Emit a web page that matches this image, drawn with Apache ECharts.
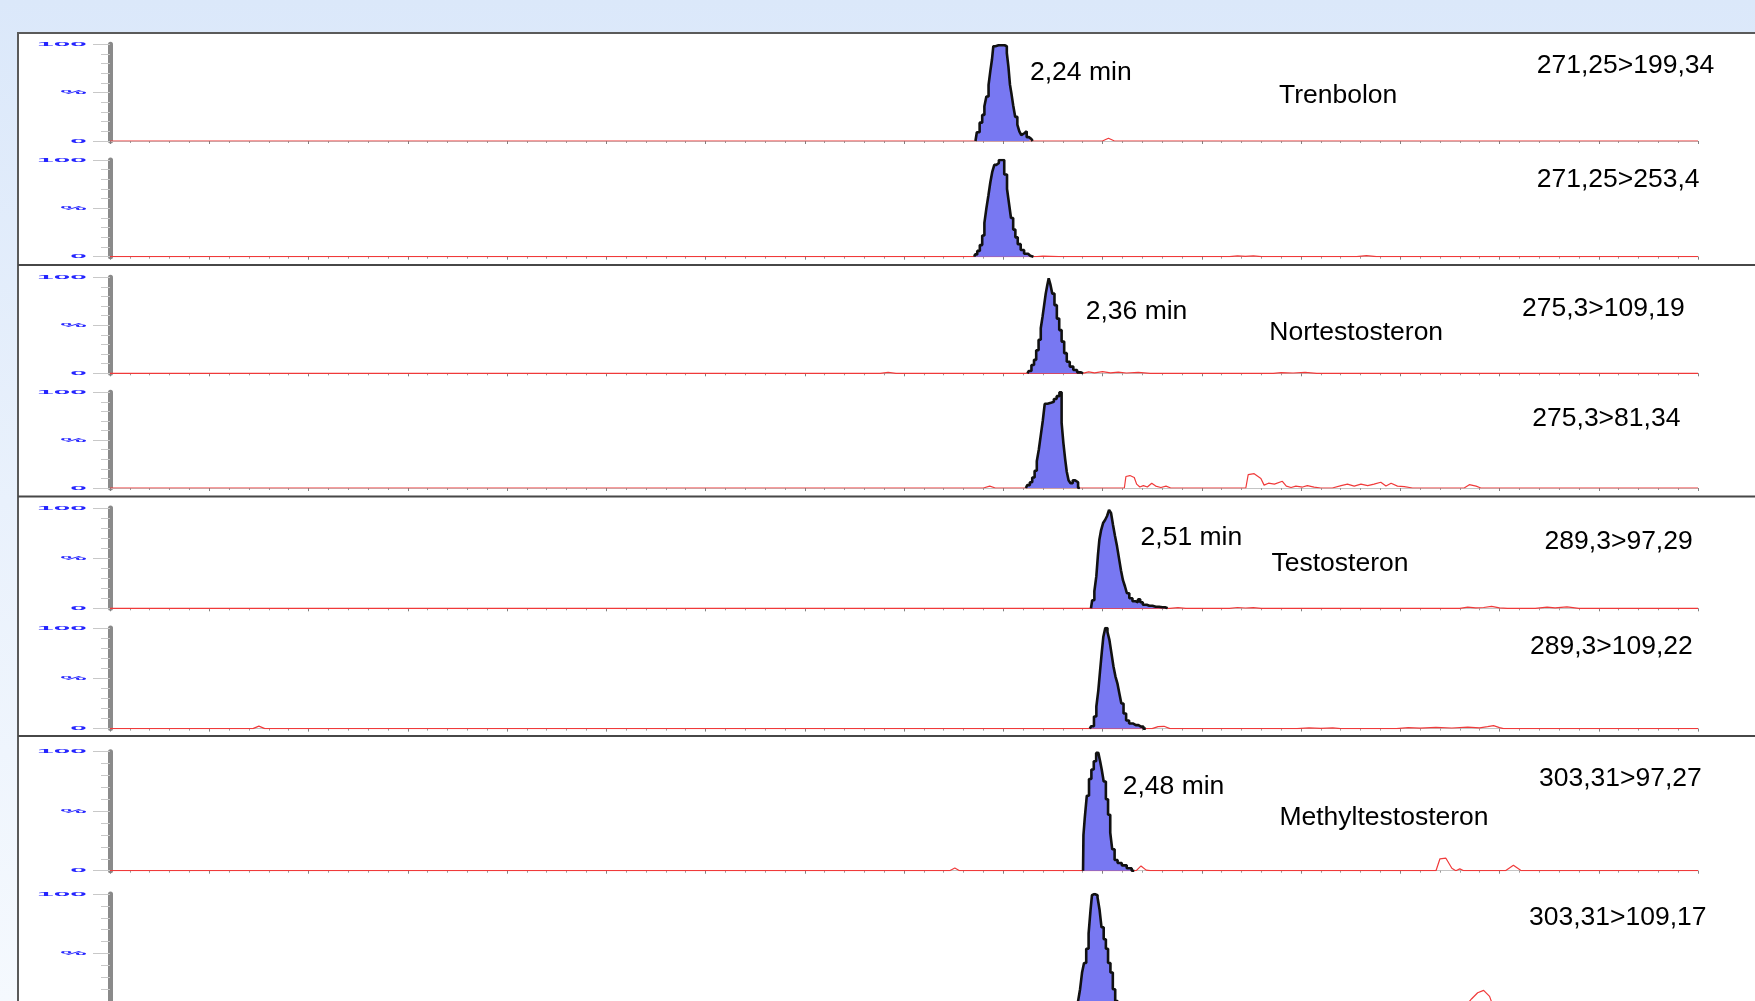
<!DOCTYPE html>
<html>
<head>
<meta charset="utf-8">
<script src="https://cdn.jsdelivr.net/npm/echarts@6/dist/echarts.min.js"></script>
<style>
  html, body { margin: 0; padding: 0; }
  body { width: 1755px; height: 1001px; overflow: hidden;
         background: linear-gradient(180deg, #dbe8fa 0%, #e9f1fc 50%, #f5f9fe 100%); }
  #chart { width: 1755px; height: 1040px; }
</style>
</head>
<body>
<div id="chart"></div>
<script>
// ---------------- DATA ----------------
const transitions = ['271,25>199,34', '271,25>253,4', '275,3>109,19', '275,3>81,34',
                     '289,3>97,29', '289,3>109,22', '303,31>97,27', '303,31>109,17'];
const compounds = ['Trenbolon', 'Nortestosteron', 'Testosteron', 'Methyltestosteron'];
const retentionLabels = ['2,24 min', '2,36 min', '2,51 min', '2,48 min'];
const yTickValues = [0, 50, 100];
const yTickLabels = ['0', '%', '100'];

// integrated peaks [time (min), intensity %]
const peak1 = [[2.180,0],[2.187,9],[2.194,19],[2.200,27],[2.205,36],[2.210,46],[2.216,58],[2.220,74],[2.223,84],[2.227,98],[2.234,99],[2.242,99],[2.250,99],[2.257,98],[2.261,91],[2.265,77],[2.269,58],[2.273,48],[2.277,37],[2.283,25],[2.288,17],[2.293,10],[2.298,6],[2.303,8],[2.307,10],[2.311,4],[2.318,2],[2.324,0]];
const peak2 = [[2.177,0],[2.181,2.4],[2.188,6],[2.194,12],[2.200,22],[2.205,35],[2.210,50],[2.215,63],[2.220,77],[2.225,88],[2.230,95],[2.236,97],[2.242,100],[2.248,100],[2.257,85],[2.262,70],[2.267,55],[2.272,40],[2.278,28],[2.283,20],[2.290,13],[2.298,7],[2.307,3],[2.318,1],[2.326,0]];
const peak3 = [[2.311,0],[2.317,2.4],[2.325,8.7],[2.330,14],[2.336,24],[2.342,35],[2.347,47],[2.351,59],[2.355,71],[2.359,83],[2.363,92],[2.366,99],[2.371,93],[2.376,83],[2.382,71],[2.388,57],[2.394,45],[2.400,33],[2.407,21],[2.413,12],[2.422,7],[2.431,3.5],[2.441,1],[2.451,0]];
const peak4 = [[2.307,0],[2.314,3],[2.320,6],[2.326,11],[2.332,18],[2.337,28],[2.342,40],[2.347,55],[2.352,70],[2.357,88],[2.366,89],[2.374,90],[2.381,93],[2.388,96],[2.395,100],[2.399,68],[2.404,47],[2.408,30],[2.412,17],[2.417,8],[2.422,5],[2.428,8],[2.434,6],[2.443,0]];
const peak5 = [[2.471,0],[2.477,8],[2.482,17],[2.487,32],[2.490,53],[2.494,68],[2.499,78],[2.504,85],[2.509,88],[2.514,92],[2.519,98],[2.524,95],[2.529,83],[2.534,72],[2.539,62],[2.544,50],[2.549,38],[2.554,28],[2.559,22],[2.564,15],[2.571,10],[2.580,7],[2.587,6],[2.592,9],[2.598,6],[2.605,3.5],[2.618,2.5],[2.634,1.5],[2.651,1],[2.664,0]];
const peak6 = [[2.468,0],[2.475,2.3],[2.482,12],[2.487,22],[2.492,38],[2.496,58],[2.500,75],[2.504,91],[2.510,100],[2.515,96],[2.520,88],[2.525,75],[2.530,62],[2.535,52],[2.540,45],[2.545,35],[2.550,25],[2.556,15],[2.563,8],[2.571,5],[2.584,3.5],[2.597,2],[2.609,0]];
const peak7 = [[2.451,0],[2.453,30],[2.458,45],[2.463,63],[2.469,77],[2.475,85],[2.481,92],[2.487,99],[2.492,100],[2.496,92],[2.500,85],[2.506,75],[2.511,60],[2.517,47],[2.522,32],[2.527,18],[2.534,9],[2.542,6.5],[2.555,4.5],[2.567,2],[2.580,0]];
const peak8 = [[2.420,0],[2.428,3],[2.436,8],[2.441,10],[2.446,20],[2.451,34],[2.456,42],[2.462,54],[2.468,67],[2.472,87],[2.475,99],[2.480,100],[2.485,99],[2.490,97],[2.495,87],[2.500,72],[2.506,62],[2.511,54],[2.517,42],[2.523,34],[2.529,20],[2.535,10],[2.541,7],[2.550,4],[2.565,2],[2.580,0]];

// raw trace outside the peaks [time (min), intensity %]
const noise1 = [[0,0],[2.500,0],[2.508,1.5],[2.515,2.8],[2.522,1.5],[2.530,0],[4,0]];
const noise2 = [[0,0],[2.335,0],[2.35,0.6],[2.37,0.3],[2.39,0],[2.82,0],[2.84,0.8],[2.86,0.3],[2.88,0.8],[2.90,0],[3.14,0],[3.165,1.2],[3.19,0],[4,0]];
const noise3 = [[0,0],[1.94,0],[1.96,1],[1.98,0],[2.45,0],[2.465,1.5],[2.48,0.5],[2.50,1.8],[2.52,0.4],[2.54,1.2],[2.56,0.3],[2.59,1],[2.62,0],[2.93,0],[2.95,0.8],[2.98,0.3],[3.01,0.9],[3.04,0],[4,0]];
const noise4 = [[0,0],[2.20,0],[2.216,2],[2.23,0],[2.555,0],[2.559,12],[2.569,13],[2.580,11],[2.586,4],[2.594,1],[2.603,2.5],[2.613,1],[2.624,5],[2.634,2],[2.647,0.5],[2.660,2],[2.672,0],[2.861,0],[2.867,14],[2.882,15],[2.899,10],[2.907,3],[2.918,5],[2.933,4],[2.953,7],[2.963,2],[2.975,0.5],[2.987,2],[3.004,1],[3.016,2.5],[3.033,1],[3.050,0],[3.079,0],[3.101,2.5],[3.117,4],[3.134,2],[3.151,4],[3.168,2.5],[3.184,4],[3.201,6],[3.214,2],[3.227,5],[3.243,2],[3.260,1.5],[3.281,0],[3.411,0],[3.424,3.5],[3.441,2],[3.453,0],[4,0]];
const noise5 = [[0,0],[2.67,0],[2.69,0.6],[2.71,0],[2.82,0],[2.84,0.8],[2.86,0.3],[2.88,0.6],[2.90,0],[3.40,0],[3.42,1.2],[3.44,0.5],[3.46,0.8],[3.48,2],[3.50,0.5],[3.52,0],[3.59,0],[3.62,1.2],[3.64,0.5],[3.67,1.5],[3.70,0],[4,0]];
const noise6 = [[0,0],[0.36,0],[0.375,2.5],[0.39,0],[2.625,0],[2.64,2],[2.655,2.3],[2.67,0],[2.99,0],[3.02,0.8],[3.05,0.3],[3.08,0.8],[3.10,0],[3.24,0],[3.27,1],[3.30,0.5],[3.34,1.2],[3.38,0.6],[3.42,1.5],[3.45,0.8],[3.47,2],[3.485,3],[3.50,1],[3.51,0],[4,0]];
const noise7 = [[0,0],[2.115,0],[2.128,2.2],[2.14,0],[2.585,0],[2.597,4],[2.61,0.5],[2.62,0],[3.34,0],[3.35,10],[3.365,10.5],[3.38,2],[3.39,0],[3.40,1.5],[3.41,0],[3.515,0],[3.535,4.5],[3.555,0],[4,0]];
const noise8 = [[0,0],[3.40,0],[3.415,6],[3.43,12],[3.445,17],[3.46,19],[3.475,14],[3.49,0],[4,0]];

const timeMin = 0, timeMax = 4, timeTick = 0.25;

// ---------------- LAYOUT ----------------
const peaks = [peak1, peak2, peak3, peak4, peak5, peak6, peak7, peak8];
const noises = [noise1, noise2, noise3, noise4, noise5, noise6, noise7, noise8];
const plotLeft = 110, plotRight = 57;
const gridTops = [44.3, 160, 277.3, 392.3, 508, 628, 751.7, 894];
const gridHeights = [96.7, 96.7, 96, 95.7, 100.3, 100.6, 119, 119];
const transPos = [[1536.7, 65.5], [1536.7, 179.5], [1522, 308.5], [1532.3, 418.5],
                  [1544.6, 541.5], [1530, 646.5], [1539, 778.5], [1529, 917.5]];
const compoundPos = [[1279, 96], [1269.3, 333], [1271.5, 564], [1279.4, 818]];
const rtPos = [[1030, 73], [1085.7, 312], [1140.6, 538], [1122.7, 786.5]];
const separators = [265, 496.5, 736];
const FONT = '26.5px "Liberation Sans", Arial, sans-serif';

const grids = [], xAxes = [], yAxes = [], series = [];
for (let i = 0; i < 8; i++) {
  grids.push({ left: plotLeft, right: plotRight, top: gridTops[i], height: gridHeights[i] });
  xAxes.push({
    type: 'value', gridIndex: i, min: timeMin, max: timeMax, interval: timeTick,
    axisLine: { show: true, onZero: false, lineStyle: { color: '#c4c4c4', width: 1 } },
    axisTick: { show: true, length: 3, lineStyle: { color: '#808080' } },
    minorTick: { show: true, splitNumber: 5, length: 2, lineStyle: { color: '#9a9a9a' } },
    axisLabel: { show: false }, splitLine: { show: false }
  });
  yAxes.push({
    type: 'value', gridIndex: i, min: 0, max: 100, interval: 50,
    axisLine: { show: true, onZero: false, lineStyle: { color: '#8a8a8a', width: 5 } },
    axisTick: { show: true, length: 17, lineStyle: { color: '#c8c8c8' } },
    minorTick: { show: true, splitNumber: 5, length: 9, lineStyle: { color: '#c8c8c8' } },
    axisLabel: { show: false }, splitLine: { show: false }
  });
  series.push({
    type: 'line', xAxisIndex: i, yAxisIndex: i, data: noises[i], symbol: 'none',
    lineStyle: { color: '#f03a3a', width: 1.2 }, z: 3, silent: true
  });
  series.push({
    type: 'line', xAxisIndex: i, yAxisIndex: i, data: peaks[i], symbol: 'none', step: 'middle',
    lineStyle: { color: '#111111', width: 2.6 }, areaStyle: { color: '#7878f2', opacity: 1 },
    z: 4, silent: true
  });
}

const chart = echarts.init(document.getElementById('chart'), null, { renderer: 'canvas' });
chart.setOption({
  animation: false,
  backgroundColor: 'transparent',
  grid: grids, xAxis: xAxes, yAxis: yAxes, series: series
});

// graphics: panel, separators, texts, y tick labels positioned via the axes
const g = [];
g.push({ type: 'rect', z: -10, silent: true,
  shape: { x: 18, y: 33, width: 1760, height: 1040 },
  style: { fill: '#ffffff', stroke: '#5a5a5a', lineWidth: 2 } });
separators.forEach(y => g.push({ type: 'line', z: 20, silent: true,
  shape: { x1: 18, y1: y, x2: 1760, y2: y }, style: { stroke: '#474747', lineWidth: 2 } }));
const addText = (txt, p) => g.push({ type: 'text', z: 30, silent: true, x: p[0], y: p[1],
  style: { text: txt, font: FONT, fill: '#000', textAlign: 'left', textVerticalAlign: 'middle' } });
transitions.forEach((t, i) => addText(t, transPos[i]));
compounds.forEach((t, i) => addText(t, compoundPos[i]));
retentionLabels.forEach((t, i) => addText(t, rtPos[i]));
for (let i = 0; i < 8; i++) {
  yTickValues.forEach((v, j) => {
    const p = chart.convertToPixel({ gridIndex: i }, [timeMin, v]);
    g.push({ type: 'text', z: 30, silent: true, x: 87, y: p[1], scaleX: 3, scaleY: 0.6,
      style: { text: yTickLabels[j], font: 'bold 10px "Liberation Sans", Arial, sans-serif',
               fill: '#2424ff', textAlign: 'right', textVerticalAlign: 'middle' } });
  });
}
chart.setOption({ graphic: g });
</script>
</body>
</html>
